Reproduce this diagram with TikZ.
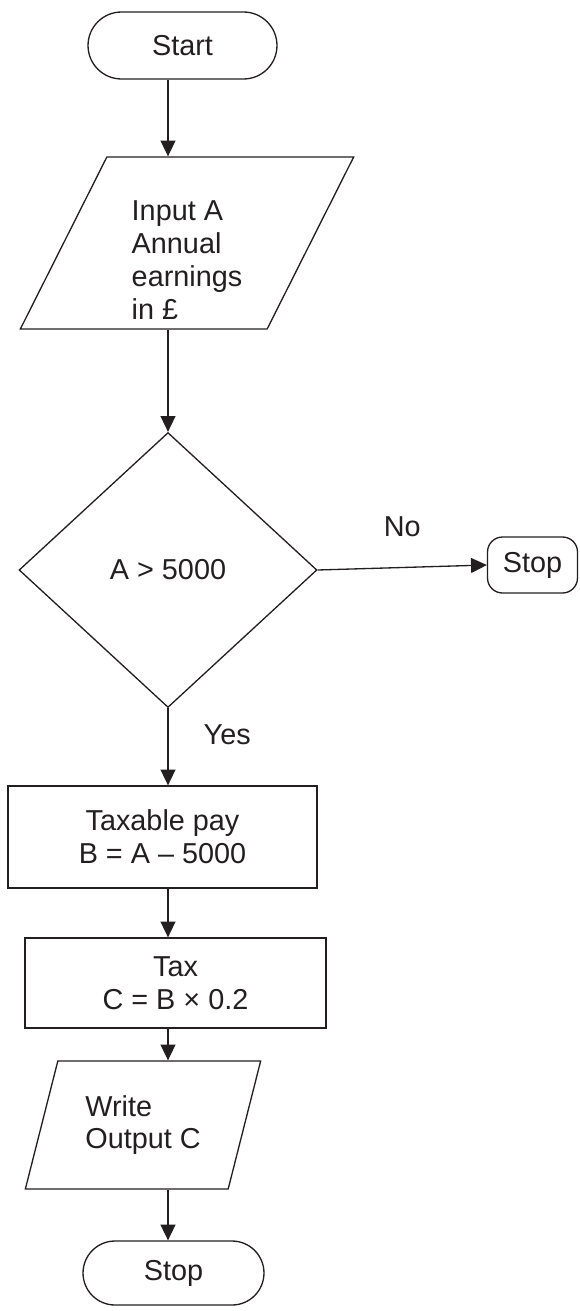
\documentclass[tikz,border=0pt]{standalone}
\usepackage{fontspec}
\setmainfont{Liberation Sans}
\usetikzlibrary{arrows.meta,positioning,shapes.geometric,shapes.misc}
\definecolor{ink}{RGB}{35,31,32}

\begin{document}
\begin{tikzpicture}[x=0.02cm,y=-0.02cm,>={Triangle[length=9pt,width=8.5pt]},
  color=ink,line width=0.75pt,
  every node/.style={font=\fontsize{16.4}{18.7}\selectfont,inner sep=0pt},
  term/.style={draw,rounded rectangle},
  io/.style={draw,trapezium,trapezium stretches=true,align=left},
  proc/.style={draw,rectangle,align=center},
  test/.style={draw,diamond}]
  \useasboundingbox (0,0) rectangle (579,1311);

  \node[term,minimum width=3.78cm,minimum height=1.34cm] (start) at (182.5,45.5) {Start};
  \node[io,trapezium left angle=68.7,trapezium right angle=111.3,
    minimum width=6.68cm,minimum height=3.44cm] (inp) at (187,243)
    {\rule{0pt}{31pt}Input A\\Annual\\earnings\\in £};
  \node[test,minimum width=5.96cm,minimum height=5.5cm] (dec) at (168,570) {A > 5000};
  \node[draw,rounded corners=0.3cm,minimum width=1.8cm,minimum height=1.12cm] (stopr) at (532.5,565) {Stop};
  \node[proc,minimum width=6.18cm,minimum height=2.04cm] (tpay) at (162.5,837)
    {Taxable pay\\B = A – 5000};
  \node[proc,minimum width=6.02cm,minimum height=1.8cm] (tax) at (175.5,983)
    {Tax\\C = B × 0.2};
  \node[io,trapezium left angle=69.8,trapezium right angle=110.2,
    minimum width=4.72cm,minimum height=2.56cm] (outp) at (143,1125)
    {Write\\Output C};
  \node[term,minimum width=3.62cm,minimum height=1.28cm] (stop) at (173.5,1273) {Stop};

  \foreach \a/\b in {start/inp,inp/dec,tpay/tax,tax/outp,outp/stop} {
    \draw[->] (\a.south-|dec) -- (\b.north-|dec);
  }

  % branch labels
  \draw[->] (dec.south) -- node[pos=0.35,right=0.7cm]{Yes} (tpay.north-|dec);
  \draw[->] (dec.east) -- node[midway,above=0.6cm]{No} (stopr.west);
\end{tikzpicture}
\end{document}
